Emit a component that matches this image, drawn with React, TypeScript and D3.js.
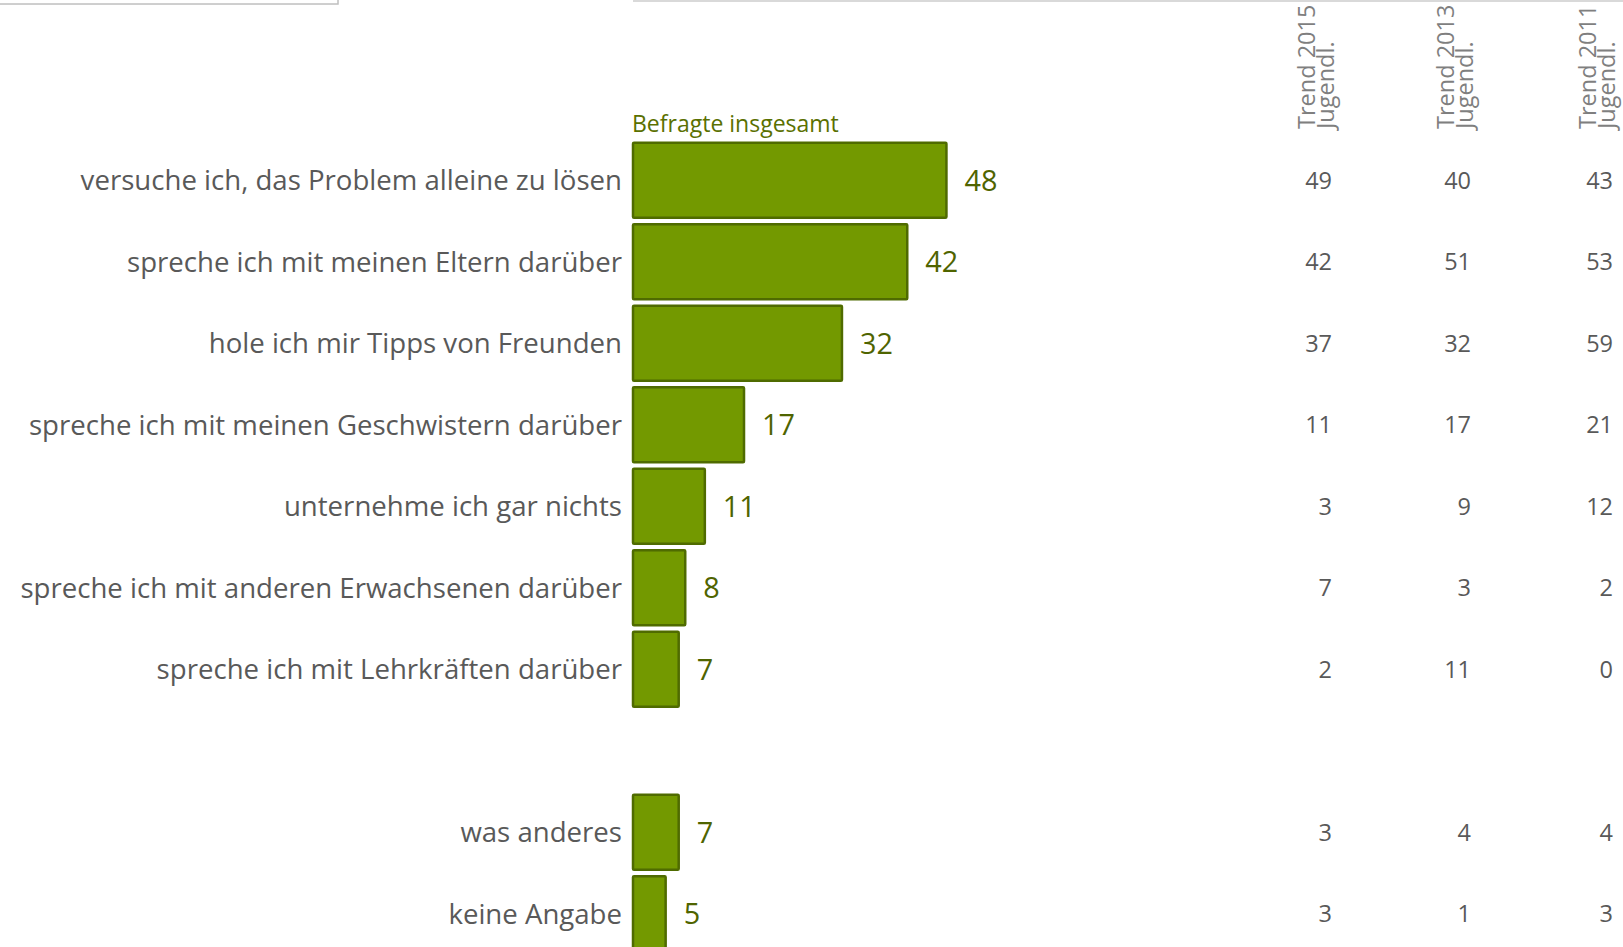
import React from "react";
import * as d3 from "d3";

const categories = [
  "versuche ich, das Problem alleine zu lösen",
  "spreche ich mit meinen Eltern darüber",
  "hole ich mir Tipps von Freunden",
  "spreche ich mit meinen Geschwistern darüber",
  "unternehme ich gar nichts",
  "spreche ich mit anderen Erwachsenen darüber",
  "spreche ich mit Lehrkräften darüber",
  "was anderes",
  "keine Angabe",
];
// slot positions (an empty row separates the last two categories)
const slots = [0, 1, 2, 3, 4, 5, 6, 8, 9];
const totals = [48, 42, 32, 17, 11, 8, 7, 7, 5];
const trend2015 = [49, 42, 37, 11, 3, 7, 2, 3, 3];
const trend2013 = [40, 51, 32, 17, 9, 3, 11, 4, 1];
const trend2011 = [43, 53, 59, 21, 12, 2, 0, 4, 3];
const trendHeaders = [
  ["Trend 2015", "Jugendl."],
  ["Trend 2013", "Jugendl."],
  ["Trend 2011", "Jugendl."],
];
const trendSeries = [trend2015, trend2013, trend2011];
const seriesTitle = "Befragte insgesamt";

const W = 1623;
const H = 947;
const FONT = "'Open Sans', sans-serif";

export default function App() {
  const y = d3
    .scaleBand<number>()
    .domain(d3.range(10))
    .range([139.5, 139.5 + 815])
    .paddingInner(0.08)
    .paddingOuter(0.04);
  const x = d3.scaleLinear().domain([0, 100]).range([633, 633 + 653]);
  const colX = d3.scaleOrdinal<number, number>().domain([0, 1, 2]).range([1332, 1471, 1613]);

  return (
    <svg
      width={W}
      height={H}
      style={{ position: "absolute", left: 0, top: 0, background: "#fff" }}
      fontFamily={FONT}
    >
      <rect x={-2} y={-10} width={340} height={14} fill="#fff" stroke="#bfbfbf" strokeWidth={1.5} />
      <line x1={633} x2={W} y1={1} y2={1} stroke="#d9d9d9" strokeWidth={2} />

      <text x={632} y={132} fontSize={23} fill="#5a7000">
        {seriesTitle}
      </text>

      {trendHeaders.map((lines, j) => (
        <text
          key={j}
          transform={`translate(${colX(j) - 17},129) rotate(-90)`}
          fontSize={23.5}
          fill="#7f7f7f"
        >
          <tspan x={0} dy={0}>{lines[0]}</tspan>
          <tspan x={0} dy={19}>{lines[1]}</tspan>
        </text>
      ))}

      {categories.map((c, i) => {
        const yy = y(slots[i])!;
        const bw = y.bandwidth();
        const cy = yy + bw / 2;
        return (
          <g key={c}>
            <text x={622} y={cy} dy="0.36em" textAnchor="end" fontSize={27.6} fill="#595959">
              {c}
            </text>
            <rect
              x={x(0)}
              y={yy}
              width={x(totals[i]) - x(0)}
              height={bw}
              fill="#739900"
              stroke="#4f6b00"
              strokeWidth={2.5}
              rx={1}
            />
            <text x={x(totals[i]) + 18} y={cy} dy="0.36em" fontSize={28.8} fill="#4f6400">
              {totals[i]}
            </text>
            {trendSeries.map((s, j) => (
              <text key={j} x={colX(j)} y={cy} dy="0.36em" textAnchor="end" fontSize={23.5} fill="#595959">
                {s[i]}
              </text>
            ))}
          </g>
        );
      })}
    </svg>
  );
}
